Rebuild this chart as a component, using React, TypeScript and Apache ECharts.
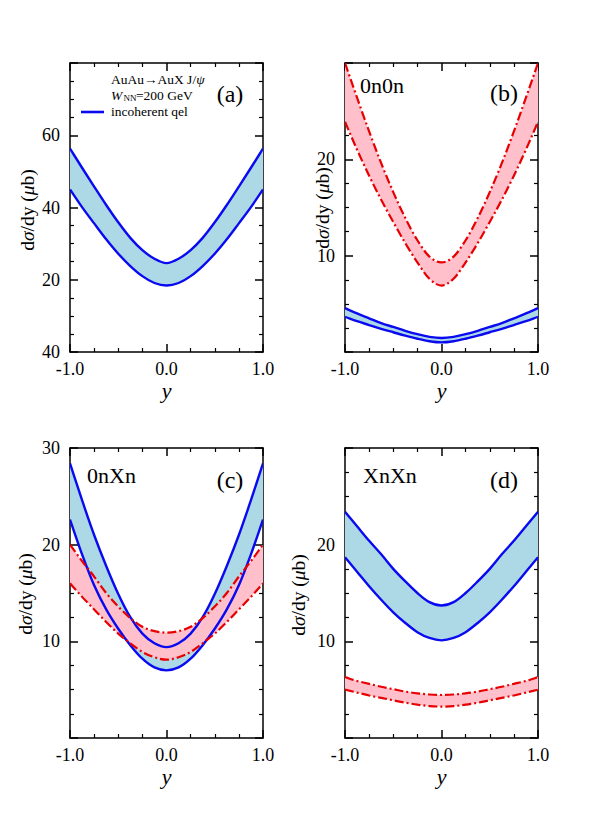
import React, { useEffect, useRef } from "react";
import * as echarts from "echarts";

// ---------- data ----------
const rapidity = [-1, -0.875, -0.75, -0.625, -0.5, -0.375, -0.25, -0.125, 0, 0.125, 0.25, 0.375, 0.5, 0.625, 0.75, 0.875, 1];

// (a) incoherent qel
const aBlueUpper = [56.3, 51.0, 45.8, 40.7, 35.9, 31.6, 28.2, 25.8, 24.6, 25.8, 28.2, 31.6, 35.9, 40.7, 45.8, 51.0, 56.3];
const aBlueLower = [45.0, 40.1, 35.6, 31.2, 27.2, 23.8, 21.0, 19.1, 18.4, 19.1, 21.0, 23.8, 27.2, 31.2, 35.6, 40.1, 45.0];

// (b) 0n0n
const bRedUpper = [30.0, 26.4, 22.9, 19.6, 16.6, 13.9, 11.6, 9.9, 9.3, 9.9, 11.6, 13.9, 16.6, 19.6, 22.9, 26.4, 30.0];
const bRedLower = [23.9, 21.0, 18.3, 15.8, 13.5, 11.3, 9.3, 7.6, 6.9, 7.6, 9.3, 11.3, 13.5, 15.8, 18.3, 21.0, 23.9];
const bBlueUpper = [4.55, 4.0, 3.5, 3.0, 2.6, 2.2, 1.85, 1.57, 1.45, 1.57, 1.85, 2.2, 2.6, 3.0, 3.5, 4.0, 4.55];
const bBlueLower = [3.65, 3.2, 2.8, 2.4, 2.05, 1.7, 1.38, 1.12, 1.0, 1.12, 1.38, 1.7, 2.05, 2.4, 2.8, 3.2, 3.65];

// (c) 0nXn
const cBlueUpper = [28.4, 24.6, 21.0, 17.8, 14.9, 12.5, 10.8, 9.8, 9.4, 9.8, 10.8, 12.5, 14.9, 17.8, 21.0, 24.6, 28.4];
const cBlueLower = [22.6, 19.0, 15.8, 13.3, 11.3, 9.6, 8.2, 7.3, 7.0, 7.3, 8.2, 9.6, 11.3, 13.3, 15.8, 19.0, 22.6];
const cRedUpper = [20.0, 18.3, 16.7, 15.0, 13.6, 12.4, 11.5, 11.05, 10.9, 11.05, 11.5, 12.4, 13.6, 15.0, 16.7, 18.3, 20.0];
const cRedLower = [16.0, 14.6, 13.3, 12.0, 10.8, 9.8, 8.9, 8.35, 8.1, 8.35, 8.9, 9.8, 10.8, 12.0, 13.3, 14.6, 16.0];

// (d) XnXn
const dBlueUpper = [23.4, 21.9, 20.4, 19.0, 17.5, 16.2, 15.0, 14.05, 13.7, 14.05, 15.0, 16.2, 17.5, 19.0, 20.4, 21.9, 23.4];
const dBlueLower = [18.7, 17.2, 15.7, 14.3, 13.0, 11.9, 10.95, 10.35, 10.1, 10.35, 10.95, 11.9, 13.0, 14.3, 15.7, 17.2, 18.7];
const dRedUpper = [6.3, 5.9, 5.6, 5.3, 5.05, 4.8, 4.62, 4.5, 4.45, 4.5, 4.62, 4.8, 5.05, 5.3, 5.6, 5.9, 6.3];
const dRedLower = [5.0, 4.7, 4.4, 4.15, 3.9, 3.65, 3.45, 3.3, 3.25, 3.3, 3.45, 3.65, 3.9, 4.15, 4.4, 4.7, 5.0];

// tick labels
const xTickValues = [-1, 0, 1];
const xTickText = ["-1.0", "0.0", "1.0"];
const aYTickValues = [0, 20, 40, 60];
const aYTickText = ["40", "20", "40", "60"];
const bYTickValues = [10, 20];
const bYTickText = ["10", "20"];
const cYTickValues = [10, 20, 30];
const cYTickText = ["10", "20", "30"];
const dYTickValues = [10, 20];
const dYTickText = ["10", "20"];

const panelTags = ["(a)", "(b)", "(c)", "(d)"];
const panelTitles = ["", "0n0n", "0nXn", "XnXn"];
const legendText = "incoherent qel";

// ---------- style ----------
const SERIF = "'Liberation Serif', 'Times New Roman', serif";
const BLUE = "#0a0af0";
const BLUE_FILL = "#add8e6";
const RED = "#e80000";
const RED_FILL = "#ffc0cb";

type Band = { upper: number[]; lower: number[]; kind: "blue" | "red" };
type Panel = {
  grid: { left: number; top: number; width: number; height: number };
  yMin: number; yMax: number; yInterval: number; yMinor: number;
  yTicks: number[]; yText: string[];
  bands: Band[];
};

const panels: Panel[] = [
  {
    grid: { left: 70, top: 63, width: 193, height: 289 },
    yMin: 0, yMax: 80, yInterval: 20, yMinor: 4,
    yTicks: aYTickValues, yText: aYTickText,
    bands: [{ upper: aBlueUpper, lower: aBlueLower, kind: "blue" }],
  },
  {
    grid: { left: 345, top: 63, width: 193, height: 289 },
    yMin: 0, yMax: 30, yInterval: 10, yMinor: 4,
    yTicks: bYTickValues, yText: bYTickText,
    bands: [
      { upper: bBlueUpper, lower: bBlueLower, kind: "blue" },
      { upper: bRedUpper, lower: bRedLower, kind: "red" },
    ],
  },
  {
    grid: { left: 70, top: 448, width: 193, height: 290 },
    yMin: 0, yMax: 30, yInterval: 10, yMinor: 4,
    yTicks: cYTickValues, yText: cYTickText,
    bands: [
      { upper: cBlueUpper, lower: cBlueLower, kind: "blue" },
      { upper: cRedUpper, lower: cRedLower, kind: "red" },
    ],
  },
  {
    grid: { left: 345, top: 448, width: 193, height: 290 },
    yMin: 0, yMax: 30, yInterval: 10, yMinor: 4,
    yTicks: dYTickValues, yText: dYTickText,
    bands: [
      { upper: dBlueUpper, lower: dBlueLower, kind: "blue" },
      { upper: dRedUpper, lower: dRedLower, kind: "red" },
    ],
  },
];

function tickLabel(values: number[], texts: string[]) {
  return (v: number) => {
    const k = values.findIndex((t) => Math.abs(t - v) < 1e-9);
    return k >= 0 ? texts[k] : "";
  };
}

// smooth curve (Catmull-Rom -> cubic Bezier) through pixel points given by the axes
function curvePath(pts: number[][], move: boolean): string {
  const n = pts.length;
  const f = (v: number) => v.toFixed(2);
  let d = (move ? "M" : "L") + f(pts[0][0]) + "," + f(pts[0][1]);
  const get = (k: number) => {
    if (k < 0) return [2 * pts[0][0] - pts[1][0], 2 * pts[0][1] - pts[1][1]];
    if (k >= n) return [2 * pts[n - 1][0] - pts[n - 2][0], 2 * pts[n - 1][1] - pts[n - 2][1]];
    return pts[k];
  };
  for (let k = 0; k < n - 1; k++) {
    const p0 = get(k - 1), p1 = get(k), p2 = get(k + 1), p3 = get(k + 2);
    const c1 = [p1[0] + (p2[0] - p0[0]) / 6, p1[1] + (p2[1] - p0[1]) / 6];
    const c2 = [p2[0] - (p3[0] - p1[0]) / 6, p2[1] - (p3[1] - p1[1]) / 6];
    d += "C" + f(c1[0]) + "," + f(c1[1]) + " " + f(c2[0]) + "," + f(c2[1]) + " " + f(p2[0]) + "," + f(p2[1]);
  }
  return d;
}

const lineBlack = { color: "#000", width: 1.5 };

function buildOption() {
  const grid: any[] = [];
  const xAxis: any[] = [];
  const yAxis: any[] = [];
  const series: any[] = [];

  panels.forEach((p, i) => {
    grid.push({ ...p.grid, containLabel: false });
    const common = {
      gridIndex: i,
      type: "value",
      axisLine: { show: true, onZero: false, lineStyle: lineBlack },
      axisTick: { show: true, inside: true, length: 8, lineStyle: lineBlack },
      minorTick: { show: true, length: 4, lineStyle: { color: "#000", width: 1.2 } },
      splitLine: { show: false },
      minorSplitLine: { show: false },
    };
    xAxis.push({
      ...common,
      position: "bottom",
      min: -1, max: 1, interval: 1,
      minorTick: { ...common.minorTick, splitNumber: 4 },
      axisLabel: {
        show: true, margin: 8, fontSize: 18, fontFamily: SERIF, color: "#000",
        formatter: tickLabel(xTickValues, xTickText),
      },
      name: "y",
      nameLocation: "middle",
      nameGap: 27,
      nameTextStyle: { fontSize: 22, fontStyle: "italic", fontFamily: SERIF, color: "#000" },
    });
    xAxis.push({
      ...common,
      position: "top",
      min: -1, max: 1, interval: 1,
      minorTick: { ...common.minorTick, splitNumber: 4 },
      axisLabel: { show: false },
    });
    yAxis.push({
      ...common,
      position: "left",
      min: p.yMin, max: p.yMax, interval: p.yInterval,
      minorTick: { ...common.minorTick, splitNumber: p.yMinor },
      axisLabel: {
        show: true, margin: 10, fontSize: 18, fontFamily: SERIF, color: "#000",
        formatter: tickLabel(p.yTicks, p.yText),
      },
    });
    yAxis.push({
      ...common,
      position: "right",
      min: p.yMin, max: p.yMax, interval: p.yInterval,
      minorTick: { ...common.minorTick, splitNumber: p.yMinor },
      axisLabel: { show: false },
    });

    p.bands.forEach((b) => {
      const isBlue = b.kind === "blue";
      const rows = rapidity.map((x, k) => [x, b.lower[k], b.upper[k]]);
      const clipOf = (cs: any) => ({
        type: "rect",
        shape: { x: cs.x, y: cs.y, width: cs.width, height: cs.height },
      });
      const base = {
        type: "custom",
        xAxisIndex: 2 * i,
        yAxisIndex: 2 * i,
        silent: true,
        data: rows,
        encode: { x: 0, y: [1, 2] },
      };
      // filled band between the two curves
      series.push({
        ...base,
        z: isBlue ? 1 : 2,
        renderItem: (params: any, api: any) => {
          if (params.dataIndex !== 0) return null;
          const top = rows.map((r) => api.coord([r[0], r[2]]));
          const bottom = rows.map((r) => api.coord([r[0], r[1]])).reverse();
          const d = curvePath(top, true) + curvePath(bottom, false) + "Z";
          return {
            type: "path",
            shape: { pathData: d },
            style: { fill: isBlue ? BLUE_FILL : RED_FILL, stroke: null },
            clipPath: clipOf(params.coordSys),
          };
        },
      });
      // the two boundary curves
      series.push({
        ...base,
        z: isBlue ? 3 : 4,
        renderItem: (params: any, api: any) => {
          if (params.dataIndex !== 0) return null;
          const stroke = {
            fill: null,
            stroke: isBlue ? BLUE : RED,
            lineWidth: isBlue ? 2.4 : 2.2,
            lineDash: isBlue ? null : [9, 3, 2, 3],
          };
          const top = rows.map((r) => api.coord([r[0], r[2]]));
          const bottom = rows.map((r) => api.coord([r[0], r[1]]));
          return {
            type: "group",
            clipPath: clipOf(params.coordSys),
            children: [
              { type: "path", shape: { pathData: curvePath(top, true) }, style: stroke },
              { type: "path", shape: { pathData: curvePath(bottom, true) }, style: stroke },
            ],
          };
        },
      });
    });
  });

  const txt = (text: string, x: number, y: number, fontSize: number, extra: any = {}) => ({
    type: "text",
    z: 10,
    x,
    y,
    rotation: extra.rotation || 0,
    style: {
      text,
      fontSize,
      fontFamily: SERIF,
      fill: "#000",
      align: extra.align || "left",
      textAlign: extra.align || "left",
      verticalAlign: "middle",
      textVerticalAlign: "middle",
      fontStyle: extra.fontStyle || "normal",
      rich: extra.rich,
    },
  });

  const NAME_FS = 19.5;
  const yNameRich = {
    r: { fontSize: NAME_FS, fontFamily: SERIF, fill: "#000", color: "#000" },
    i: { fontSize: NAME_FS, fontFamily: SERIF, fontStyle: "italic", fill: "#000", color: "#000" },
  };
  const yName = "{r|d}{i|σ}{r|/dy (}{i|μ}{r|b)}";
  const yNamePos = [[27, 210], [322, 208], [25, 594], [298, 595]];

  const graphic: any[] = [];
  yNamePos.forEach(([x, y]) => {
    graphic.push(txt(yName, x, y, NAME_FS, { align: "center", rich: yNameRich, rotation: Math.PI / 2 }));
  });

  // panel tags
  graphic.push(txt(panelTags[0], 230, 94, 24, { align: "center" }));
  graphic.push(txt(panelTags[1], 504, 93, 24, { align: "center" }));
  graphic.push(txt(panelTags[2], 230, 480, 24, { align: "center" }));
  graphic.push(txt(panelTags[3], 504, 480, 24, { align: "center" }));
  // panel titles
  graphic.push(txt(panelTitles[1], 360, 85, 22));
  graphic.push(txt(panelTitles[2], 87, 475, 22));
  graphic.push(txt(panelTitles[3], 363, 475, 22));

  // panel (a) annotation
  graphic.push(
    txt("{r|AuAu→AuX J/}{i|ψ}", 111, 79, 13.5, {
      rich: {
        r: { fontSize: 13.5, fontFamily: SERIF, fill: "#000", color: "#000" },
        i: { fontSize: 13.5, fontFamily: SERIF, fontStyle: "italic", fill: "#000", color: "#000" },
      },
    })
  );
  graphic.push(txt("W", 111, 95, 13.5, { fontStyle: "italic" }));
  graphic.push(txt("NN", 123.5, 98, 9));
  graphic.push(txt("=200 GeV", 136, 95, 13.5));
  graphic.push({
    type: "line",
    z: 10,
    shape: { x1: 81, y1: 112, x2: 104, y2: 112 },
    style: { stroke: BLUE, lineWidth: 2.6 },
  });
  graphic.push(txt(legendText, 111, 111, 13.5));

  return {
    animation: false,
    backgroundColor: "#fff",
    grid,
    xAxis,
    yAxis,
    series,
    graphic,
  };
}

export default function App() {
  const ref = useRef<HTMLDivElement>(null);
  useEffect(() => {
    if (!ref.current) return;
    const chart = echarts.init(ref.current, undefined, { renderer: "svg" });
    chart.setOption(buildOption() as any);
    return () => chart.dispose();
  }, []);
  return (
    <div
      ref={ref}
      style={{ position: "fixed", left: 0, top: 0, width: 608, height: 829, background: "#fff" }}
    />
  );
}
